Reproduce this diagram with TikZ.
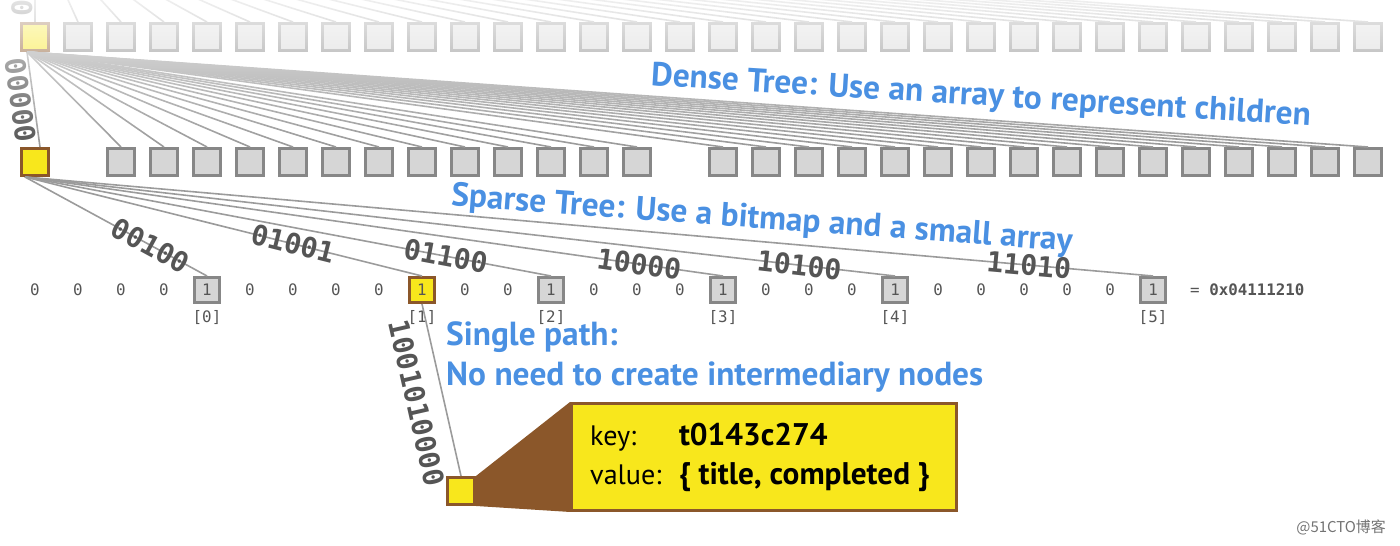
\documentclass[tikz,border=0pt]{standalone}
\usepackage{fontspec}
\setmainfont{PT Sans}
\newfontfamily\monofont{DejaVu Sans Mono}
\newfontfamily\cjkfont{Noto Sans CJK SC}
\usetikzlibrary{fadings}

\definecolor{keyyellow}{HTML}{F8E71C}
\definecolor{keybrown}{HTML}{8B572A}
\definecolor{slotfill}{HTML}{D6D6D6}
\definecolor{slotline}{HTML}{878787}
\definecolor{linkgray}{HTML}{9B9B9B}
\definecolor{noteblue}{HTML}{4A90E2}
\definecolor{bitgray}{HTML}{555555}

\tikzfading[name=fadetop, top color=transparent!10, bottom color=transparent!100]

\newcommand\cardbold[1]{{\bfseries\fontsize{17.8}{22}\selectfont #1}}

\tikzset{
  slotbox/.style={draw=slotline, fill=slotfill, line width=0.06cm, minimum size=0.54cm, inner sep=0pt},
  hitbox/.style={slotbox, draw=keybrown, fill=keyyellow},
  bitslot/.style={slotbox, minimum size=0.5cm, font=\monofont\fontsize{9}{9}\selectfont, text=bitgray},
  bittext/.style={font=\monofont\fontsize{9}{9}\selectfont, text=bitgray},
  linkline/.style={draw=linkgray, line width=0.032cm},
  edgelabel/.style={font=\monofont\bfseries\fontsize{16}{16}\selectfont, text=bitgray, sloped, inner sep=1pt},
  notetext/.style={font=\bfseries\fontsize{19}{22}\selectfont, text=noteblue},
  cardbox/.style={draw=keybrown, fill=keyyellow, line width=0.06cm, minimum width=7.70cm, minimum height=2.14cm, inner sep=0pt}
}

\begin{document}
\begin{tikzpicture}[x=0.02cm, y=-0.02cm]
\useasboundingbox (0,0) rectangle (1400,546);

% Top level, its parent lies above the page
\coordinate (p0) at (35,-73);
\node[hitbox] (t0) at (35,37) {};
\foreach \i in {1,...,31}
  \node[slotbox] (t\i) at ({35+43*\i},37) {};
\draw[linkline] (p0) -- (t0.north) node[edgelabel, pos=0.5, below] {00000};
\foreach \i in {1,...,31}
  \draw[linkline] (p0) -- (t\i.north);

% Dense level: array of children
\node[hitbox] (m0) at (35,162) {};
\foreach \i in {2,...,14}
  \node[slotbox] (m\i) at ({35+43*\i},162) {};
\foreach \i in {16,...,31}
  \node[slotbox] (m\i) at ({35+43*\i},162) {};
\coordinate (tfan) at ([xshift=-0.16cm]t0.south);
\draw[linkline] (tfan) -- ([xshift=0.1cm]m0.north) node[edgelabel, pos=0.49, below] {00000};
\foreach \i in {2,...,14}
  \draw[linkline] (tfan) -- (m\i.north);
\foreach \i in {16,...,31}
  \draw[linkline] (tfan) -- (m\i.north);

% Fading of the upper levels
\fill[white, path fading=fadetop, fit fading=true] (0,-10) rectangle (1400,144);

% Sparse level: bitmap and small array
\foreach \k in {0,1,2,3,5,6,7,8,10,11,13,14,15,17,18,19,21,22,23,24,25}
  \node[bittext] (z\k) at ({35+43*\k},290) {0};
\foreach \k/\n/\fc/\dc in {4/0/slotfill/slotline, 9/1/keyyellow/keybrown, 12/2/slotfill/slotline,
    16/3/slotfill/slotline, 20/4/slotfill/slotline, 26/5/slotfill/slotline} {
  \node[bitslot, fill=\fc, draw=\dc] (s\n) at ({35+43*\k},290) {1};
  \node[bittext] (i\n) at ({35+43*\k},318) {[\n]};
}
\node[bittext, anchor=west] (hex) at (1184,290) {= \textbf{0x04111210}};
\coordinate (mfan) at ([xshift=-0.2cm]m0.south);
\foreach \n/\lbl/\p in {0/00100/0.69, 1/01001/0.675, 2/01100/0.80, 3/10000/0.88, 4/10100/0.89, 5/11010/0.89}
  \draw[linkline] (mfan) -- (s\n.north) node[edgelabel, pos=\p] {\lbl};

% Single path down to the leaf
\node[hitbox] (leaf) at (461,491) {};
\draw[linkline] (s1.south) -- (leaf.north) node[edgelabel, pos=0.54, below=8pt] {1001010000};
\node[cardbox, anchor=north west] (card) at (570,402) {};
\fill[keybrown] (leaf.north east) -- (card.north west) -- (card.south west) -- (leaf.south east) -- cycle;
\node[anchor=west, font=\fontsize{16}{22}\selectfont] (kv) at (584,457)
  {\begin{tabular}{@{}l@{\hspace{10pt}}l@{}}key: & \cardbold{t0143c274}\\ value: & \cardbold{\{ title, completed \}}\end{tabular}};

% Notes
\node[notetext, rotate=-3.5] (dense) at (981,97) {Dense Tree: Use an array to represent children};
\node[notetext, rotate=-4.2] (sparse) at (762,220) {Sparse Tree: Use a bitmap and a small array};
\node[notetext, anchor=base west] (single) at (440,346) {Single path:};
\node[notetext, anchor=base west] (nointer) at (440,386) {No need to create intermediary nodes};
\node[anchor=east, font=\cjkfont\fontsize{8.5}{9}\selectfont, text=black!55] (mark) at (1392,527) {@51CTO博客};
\end{tikzpicture}
\end{document}
